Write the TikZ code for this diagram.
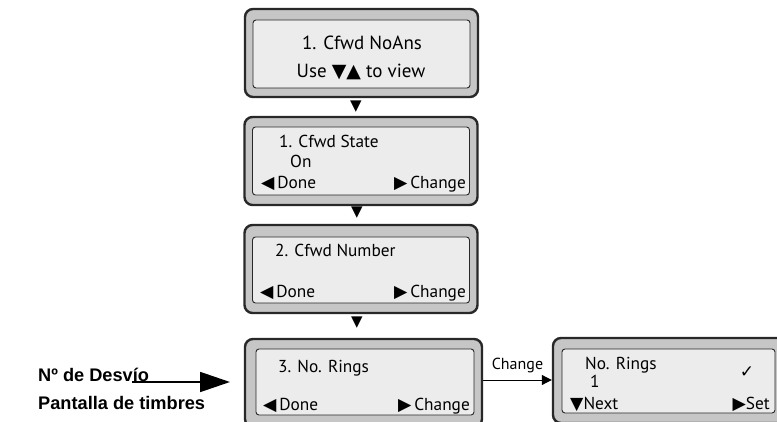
\documentclass[tikz,border=0pt]{standalone}
\usepackage{fontspec}
\setmainfont{PT Sans}
\newfontfamily\symfont{DejaVu Sans}
\newfontfamily\labfont{Liberation Sans}
\usetikzlibrary{arrows.meta}
\definecolor{bezelgray}{RGB}{198,198,198}
\definecolor{lcdgray}{RGB}{236,236,236}
\definecolor{rimgray}{RGB}{40,40,40}
\newcommand{\dn}{{\symfont\char"25BC}}
\newcommand{\up}{{\symfont\char"25B2}}
\newcommand{\lt}{{\symfont\char"25C0}}
\newcommand{\rt}{{\symfont\char"25B6}}
\tikzset{
  bezel/.style={draw=rimgray, line width=2.4pt, fill=bezelgray, rounded corners=8pt,
    minimum width=233pt, minimum height=88pt, inner sep=0pt},
  lcd/.style={draw=rimgray, line width=0.9pt, fill=lcdgray, rounded corners=3pt,
    minimum width=217pt, minimum height=68pt, inner sep=0pt},
  txt/.style={font=\fontsize{17.3}{19}\selectfont, inner sep=0pt, anchor=base west},
  softkey/.style={txt, anchor=base east},
  stepmark/.style={font=\fontsize{15}{15}\selectfont\symfont, inner sep=0pt},
  callout/.style={font=\fontsize{18.2}{20}\selectfont\labfont\bfseries, inner sep=0pt, anchor=base west}
}
\begin{document}
\begin{tikzpicture}[x=1pt,y=-1pt]
  \useasboundingbox (0,0) rectangle (777,422);
  % screens
  \node[bezel] (s1) at (361.5,53) {};
  \node[lcd] (l1) at (361.5,54) {};
  \node[bezel] (s2) at (361,161) {};
  \node[lcd] (l2) at (361,161) {};
  \node[bezel] (s3) at (361,269) {};
  \node[lcd, minimum height=66pt] (l3) at (361,270) {};
  \node[bezel, minimum width=237pt] (s4) at (363.5,383) {};
  \node[lcd, minimum width=218pt, minimum height=66pt] (l4) at (365,382) {};
  \node[bezel, minimum width=232pt, minimum height=85pt] (s5) at (669,380.5) {};
  \node[lcd, minimum width=213pt, minimum height=64pt] (l5) at (668.5,381) {};
  % screen texts
  \node[txt, anchor=base, font=\fontsize{19}{21}\selectfont] (a1) at (362,50) {1. Cfwd NoAns};
  \node[txt, anchor=base, font=\fontsize{19}{21}\selectfont] (a2) at (361,78) {Use \dn\up\ to view};
  \node[txt] (b1) at (279,148) {1. Cfwd State};
  \node[txt] (b2) at (290,168) {On};
  \node[txt] (b3) at (261,189) {\lt\,Done};
  \node[softkey] (b4) at (466,189) {\rt\,Change};
  \node[txt] (c1) at (275,257) {2. Cfwd Number};
  \node[txt] (c3) at (260,298) {\lt\,Done};
  \node[softkey] (c4) at (466,298) {\rt\,Change};
  \node[txt] (d1) at (278,372) {3. No. Rings};
  \node[txt] (d3) at (263,410) {\lt\,Done};
  \node[softkey] (d4) at (470,410) {\rt\,Change};
  \node[txt] (e1) at (585,370) {No. Rings};
  \node[txt] (e2) at (590,387) {1};
  \node[inner sep=0pt, font=\fontsize{17}{17}\selectfont\symfont] (e5) at (747,372) {✓};
  \node[txt] (e3) at (570,409) {\dn Next};
  \node[softkey] (e4) at (770,409) {\rt Set};
  % step marks
  \node[stepmark] (t1) at (356,107) {\char"25BC};
  \node[stepmark] (t2) at (357,213) {\char"25BC};
  \node[stepmark] (t3) at (357,323) {\char"25BC};
  % change arrow
  \draw[line width=1pt, -{Triangle[length=10pt,width=10pt]}] (s4.east |- 0,380) -- (s5.west |- 0,380)
    node[midway, above=3pt, font=\fontsize{16}{18}\selectfont] {Change};
  % callout
  \node[callout] (n1) at (38,381) {Nº de Desvío};
  \node[callout] (n2) at (38,409) {Pantalla de timbres};
  \coordinate (src) at (132,382);
  \coordinate (dst) at (230,382);
  \draw[line width=1.8pt, -{Triangle[length=30pt,width=20pt]}] (src) -- (dst);
\end{tikzpicture}
\end{document}
